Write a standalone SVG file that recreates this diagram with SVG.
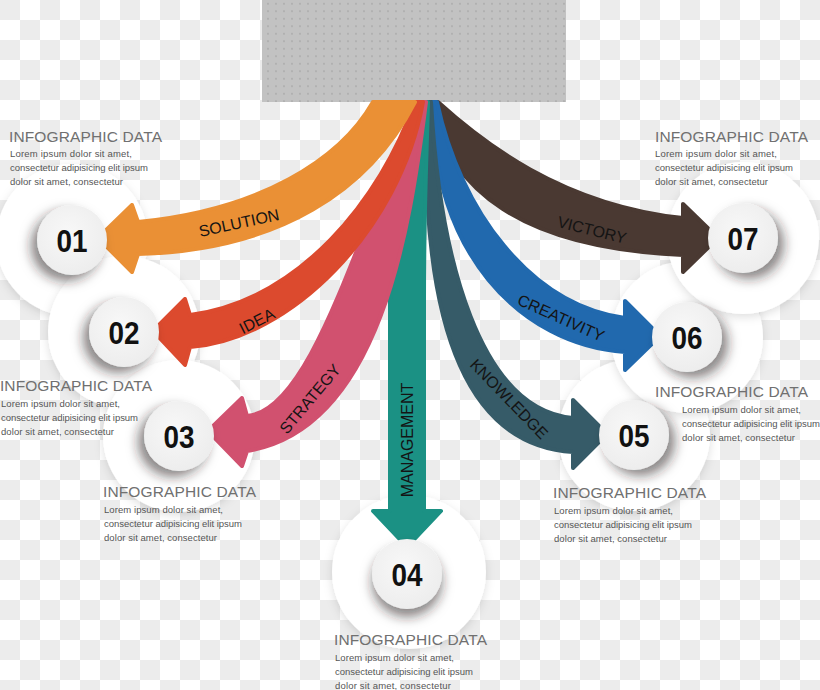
<svg xmlns="http://www.w3.org/2000/svg" width="820" height="690" viewBox="0 0 820 690">
<defs>
<pattern id="checker" width="40" height="40" patternUnits="userSpaceOnUse">
<rect width="40" height="40" fill="#ffffff"/>
<rect x="0" y="0" width="20" height="20" fill="#ececec"/>
<rect x="20" y="20" width="20" height="20" fill="#ececec"/>
</pattern>
<pattern id="dots" width="8" height="7.5" patternUnits="userSpaceOnUse">
<rect width="8" height="7.5" fill="#c2c2c2"/>
<circle cx="4" cy="3.75" r="0.9" fill="#a9a9a9"/>
</pattern>
<radialGradient id="disc" cx="45%" cy="40%" r="60%">
<stop offset="0" stop-color="#f8f8f8"/>
<stop offset="1" stop-color="#ededed"/>
</radialGradient>
<filter id="halo" x="-30%" y="-30%" width="160%" height="160%">
<feDropShadow dx="0" dy="3" stdDeviation="5" flood-color="#000" flood-opacity="0.13"/>
</filter>
<filter id="shL" x="-60%" y="-60%" width="220%" height="220%">
<feDropShadow dx="-6" dy="6" stdDeviation="6" flood-color="#2a2020" flood-opacity="0.55"/>
</filter>
<filter id="shR" x="-60%" y="-60%" width="220%" height="220%">
<feDropShadow dx="6" dy="6" stdDeviation="6" flood-color="#2a2020" flood-opacity="0.55"/>
</filter>
<filter id="shB" x="-60%" y="-60%" width="220%" height="220%">
<feDropShadow dx="0" dy="8" stdDeviation="6" flood-color="#2a2020" flood-opacity="0.55"/>
</filter>
<style>
.ttl{font-family:"Liberation Sans",Arial,sans-serif;font-size:15.5px;fill:#707070;}
.bd{font-family:"Liberation Sans",Arial,sans-serif;font-size:9.5px;fill:#555555;}
.num{font-family:"Liberation Sans",Arial,sans-serif;font-size:32px;font-weight:bold;fill:#111111;text-anchor:middle;}
.lab{font-family:"Liberation Sans",Arial,sans-serif;font-size:16px;fill:#141414;text-anchor:middle;}
.halo{fill:#ffffff;filter:url(#halo);}
.disc{fill:url(#disc);}
.arr{stroke-linejoin:round;stroke-width:4;}
</style>
</defs>

<rect width="820" height="690" fill="url(#checker)"/>

<g id="halos">
<circle class="halo" cx="72" cy="240" r="76"/>
<circle class="halo" cx="124" cy="332" r="76"/>
<circle class="halo" cx="179" cy="436" r="76"/>
<circle class="halo" cx="409" cy="572" r="77"/>
<circle class="halo" cx="634" cy="435" r="76"/>
<circle class="halo" cx="687" cy="337" r="76"/>
<circle class="halo" cx="743" cy="238" r="76"/>
</g>

<g id="source">
<rect x="262" y="0" width="304" height="102" fill="url(#dots)"/>
</g>

<g id="connectors">
<g id="arrow-victory">
<path class="arr" fill="#4a3932" stroke="#4a3932" d="M428,102 C450,190 520,248 683,255 L683,272 L718,238 L683,204 L683,218 C560,205 480,140 438,102 Z"/>
<text class="lab" transform="translate(592,230) rotate(14)" dy="5.5">VICTORY</text>
</g>
<g id="arrow-creativity">
<path class="arr" fill="#2169ae" stroke="#2169ae" d="M433,102 C430,250 520,345 625,352 L625,370 L660,336 L625,301 L625,318 C530,305 460,210 437,102 Z"/>
<text class="lab" transform="translate(561,318) rotate(24)" dy="5.5">CREATIVITY</text>
</g>
<g id="arrow-knowledge">
<path class="arr" fill="#365b68" stroke="#365b68" d="M427,102 C420,300 455,445 573,452 L573,468 L607,434 L573,400 L573,418 C480,410 440,260 431,102 Z"/>
<text class="lab" transform="translate(509,399) rotate(46)" dy="5.5">KNOWLEDGE</text>
</g>
<g id="arrow-management">
<path class="arr" fill="#1b9184" stroke="#1b9184" d="M424,102 C410,180 390,240 390,300 L390,511 L373,511 L407,547 L441,511 L424,511 L424,300 C424,200 427,150 428,102 Z"/>
<text class="lab" transform="translate(407,440) rotate(-90)" dy="5.5">MANAGEMENT</text>
</g>
<g id="arrow-strategy">
<path class="arr" fill="#d1516f" stroke="#d1516f" d="M423,102 C370,180 320,410 247,416 L242,398 L208,431 L242,466 L247,451 C380,430 410,230 426,102 Z"/>
<text class="lab" transform="translate(310,399) rotate(-50)" dy="5.5">STRATEGY</text>
</g>
<g id="arrow-idea">
<path class="arr" fill="#dc4a2e" stroke="#dc4a2e" d="M415,102 C380,200 300,300 190,315 L185,299 L153,331 L185,365 L190,347 C290,340 400,230 423,102 Z"/>
<text class="lab" transform="translate(257,321) rotate(-27)" dy="5.5">IDEA</text>
</g>
<g id="arrow-solution">
<path class="arr" fill="#ea9035" stroke="#ea9035" d="M373,102 C340,160 260,210 138,222 L132,205 L98,238 L132,272 L138,254 C280,250 370,190 415,102 Z"/>
<text class="lab" transform="translate(239,223) rotate(-12)" dy="5.5">SOLUTION</text>
</g>
</g>

<g id="node-01">
<circle class="disc" cx="72" cy="240" r="35" filter="url(#shL)"/>
<text class="num" x="72" y="252" textLength="31" lengthAdjust="spacingAndGlyphs">01</text>
</g>
<g id="node-02">
<circle class="disc" cx="124" cy="332" r="35" filter="url(#shL)"/>
<text class="num" x="124" y="344" textLength="31" lengthAdjust="spacingAndGlyphs">02</text>
</g>
<g id="node-03">
<circle class="disc" cx="179" cy="436" r="35" filter="url(#shL)"/>
<text class="num" x="179" y="448" textLength="31" lengthAdjust="spacingAndGlyphs">03</text>
</g>
<g id="node-04">
<circle class="disc" cx="407" cy="574" r="35" filter="url(#shB)"/>
<text class="num" x="407" y="586" textLength="31" lengthAdjust="spacingAndGlyphs">04</text>
</g>
<g id="node-05">
<circle class="disc" cx="634" cy="435" r="35" filter="url(#shR)"/>
<text class="num" x="634" y="447" textLength="31" lengthAdjust="spacingAndGlyphs">05</text>
</g>
<g id="node-06">
<circle class="disc" cx="687" cy="337" r="35" filter="url(#shR)"/>
<text class="num" x="687" y="349" textLength="31" lengthAdjust="spacingAndGlyphs">06</text>
</g>
<g id="node-07">
<circle class="disc" cx="743" cy="238" r="35" filter="url(#shR)"/>
<text class="num" x="743" y="250" textLength="31" lengthAdjust="spacingAndGlyphs">07</text>
</g>

<g id="text-01">
<text class="ttl" x="9" y="142" textLength="153" lengthAdjust="spacing">INFOGRAPHIC DATA</text>
<text class="bd" x="10" y="157" textLength="122" lengthAdjust="spacing">Lorem ipsum dolor sit amet,</text>
<text class="bd" x="10" y="171" textLength="138" lengthAdjust="spacing">consectetur adipisicing elit ipsum</text>
<text class="bd" x="10" y="185" textLength="113" lengthAdjust="spacing">dolor sit amet, consectetur</text>
</g>
<g id="text-07">
<text class="ttl" x="655" y="142" textLength="153" lengthAdjust="spacing">INFOGRAPHIC DATA</text>
<text class="bd" x="655" y="157" textLength="122" lengthAdjust="spacing">Lorem ipsum dolor sit amet,</text>
<text class="bd" x="655" y="171" textLength="138" lengthAdjust="spacing">consectetur adipisicing elit ipsum</text>
<text class="bd" x="655" y="185" textLength="113" lengthAdjust="spacing">dolor sit amet, consectetur</text>
</g>
<g id="text-02">
<text class="ttl" x="0" y="391" textLength="152" lengthAdjust="spacing">INFOGRAPHIC DATA</text>
<text class="bd" x="1" y="407" textLength="119" lengthAdjust="spacing">Lorem ipsum dolor sit amet,</text>
<text class="bd" x="1" y="421" textLength="137" lengthAdjust="spacing">consectetur adipisicing elit ipsum</text>
<text class="bd" x="1" y="435" textLength="113" lengthAdjust="spacing">dolor sit amet, consectetur</text>
</g>
<g id="text-03">
<text class="ttl" x="103" y="497" textLength="153" lengthAdjust="spacing">INFOGRAPHIC DATA</text>
<text class="bd" x="104" y="513" textLength="119" lengthAdjust="spacing">Lorem ipsum dolor sit amet,</text>
<text class="bd" x="104" y="527" textLength="138" lengthAdjust="spacing">consectetur adipisicing elit ipsum</text>
<text class="bd" x="104" y="541" textLength="113" lengthAdjust="spacing">dolor sit amet, consectetur</text>
</g>
<g id="text-04">
<text class="ttl" x="334" y="645" textLength="153" lengthAdjust="spacing">INFOGRAPHIC DATA</text>
<text class="bd" x="335" y="661" textLength="119" lengthAdjust="spacing">Lorem ipsum dolor sit amet,</text>
<text class="bd" x="335" y="675" textLength="138" lengthAdjust="spacing">consectetur adipisicing elit ipsum</text>
<text class="bd" x="335" y="689" textLength="116" lengthAdjust="spacing">dolor sit amet, consectetur</text>
</g>
<g id="text-05">
<text class="ttl" x="553" y="498" textLength="153" lengthAdjust="spacing">INFOGRAPHIC DATA</text>
<text class="bd" x="554" y="514" textLength="119" lengthAdjust="spacing">Lorem ipsum dolor sit amet,</text>
<text class="bd" x="554" y="528" textLength="138" lengthAdjust="spacing">consectetur adipisicing elit ipsum</text>
<text class="bd" x="554" y="542" textLength="113" lengthAdjust="spacing">dolor sit amet, consectetur</text>
</g>
<g id="text-06">
<text class="ttl" x="655" y="397" textLength="153" lengthAdjust="spacing">INFOGRAPHIC DATA</text>
<text class="bd" x="682" y="413" textLength="119" lengthAdjust="spacing">Lorem ipsum dolor sit amet,</text>
<text class="bd" x="682" y="427" textLength="138" lengthAdjust="spacing">consectetur adipisicing elit ipsum</text>
<text class="bd" x="682" y="441" textLength="113" lengthAdjust="spacing">dolor sit amet, consectetur</text>
</g>
</svg>
